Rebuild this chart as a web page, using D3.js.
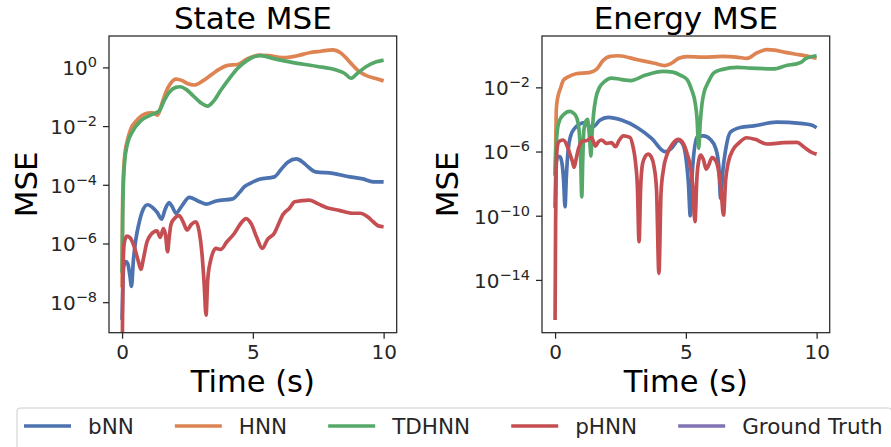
<!DOCTYPE html>
<html>
<head>
<meta charset="utf-8">
<script src="https://cdn.jsdelivr.net/npm/d3@7"></script>
<style>
  html, body { margin: 0; padding: 0; background: #fff; }
  svg { display: block; }
</style>
</head>
<body>
<svg id="chart" width="891" height="447"></svg>
<script>
// ---- Series: [time (s), log10(MSE)] samples of each model's error ----
const stateBNN = [[0,-8.6],[0.06,-6.8],[0.14,-6.62],[0.22,-6.7],[0.3,-7.1],[0.36,-7.46],[0.43,-6.6],[0.52,-5.9],[0.65,-5.3],[0.8,-4.85],[0.97,-4.68],[1.2,-4.8],[1.35,-4.95],[1.51,-5.17],[1.64,-4.85],[1.8,-4.61],[1.92,-4.75],[2.06,-4.97],[2.3,-4.7],[2.57,-4.43],[2.9,-4.55],[3.21,-4.66],[3.6,-4.55],[4.23,-4.48],[4.5,-4.25],[4.67,-4.07],[4.9,-3.95],[5.25,-3.81],[5.82,-3.73],[6.1,-3.45],[6.35,-3.22],[6.66,-3.12],[6.9,-3.22],[7.1,-3.38],[7.4,-3.56],[8.06,-3.61],[8.7,-3.73],[9.21,-3.8],[9.6,-3.9],[10,-3.9]];
const stateHNN = [[0,-7.5],[0.02,-4.6],[0.06,-3.5],[0.12,-2.85],[0.2,-2.5],[0.33,-2.1],[0.52,-1.85],[0.75,-1.65],[0.97,-1.56],[1.15,-1.55],[1.36,-1.63],[1.5,-1.3],[1.67,-0.85],[1.85,-0.55],[2.06,-0.4],[2.3,-0.45],[2.5,-0.55],[2.76,-0.6],[3.1,-0.45],[3.4,-0.26],[3.7,-0.07],[4.04,0.07],[4.42,0.1],[4.8,0.3],[5.25,0.42],[5.6,0.4],[6.14,0.33],[6.66,0.39],[7.16,0.5],[7.6,0.55],[8.06,0.6],[8.35,0.5],[8.7,0.19],[9.08,-0.15],[9.34,-0.28],[9.7,-0.38],[10,-0.46]];
const stateTDHNN = [[0,-7.0],[0.02,-5.2],[0.05,-4.0],[0.1,-3.2],[0.2,-2.62],[0.39,-2.2],[0.71,-1.82],[1.1,-1.62],[1.42,-1.48],[1.6,-1.15],[1.8,-0.85],[2.05,-0.68],[2.22,-0.66],[2.45,-0.75],[2.7,-0.95],[3.0,-1.2],[3.27,-1.32],[3.5,-1.15],[3.78,-0.77],[4.1,-0.38],[4.42,-0.03],[4.8,0.25],[5.1,0.38],[5.31,0.4],[5.8,0.3],[6.5,0.17],[7.42,0.04],[8.19,-0.09],[8.5,-0.2],[8.76,-0.37],[9.0,-0.2],[9.34,0.03],[9.72,0.19],[10,0.25]];
const statePHNN = [[0,-10.5],[0.03,-7.2],[0.08,-6.0],[0.18,-5.75],[0.3,-5.8],[0.46,-6.1],[0.62,-6.6],[0.72,-6.88],[0.82,-6.5],[0.95,-5.95],[1.1,-5.7],[1.33,-5.57],[1.46,-5.79],[1.58,-5.49],[1.66,-5.7],[1.74,-6.28],[1.8,-5.8],[1.87,-5.35],[2.0,-5.15],[2.18,-5.05],[2.35,-5.3],[2.48,-5.54],[2.65,-5.35],[2.82,-5.26],[2.95,-5.6],[3.05,-6.3],[3.14,-7.4],[3.21,-8.44],[3.27,-7.3],[3.36,-6.68],[3.59,-6.17],[3.78,-6.2],[4.0,-5.95],[4.29,-5.66],[4.55,-5.3],[4.74,-5.15],[4.95,-5.35],[5.15,-5.8],[5.36,-6.17],[5.57,-5.85],[5.82,-5.65],[6.0,-5.3],[6.14,-5.03],[6.4,-4.8],[6.6,-4.58],[7.16,-4.52],[7.5,-4.65],[7.8,-4.77],[8.3,-4.87],[8.8,-4.97],[9.1,-4.97],[9.4,-5.1],[9.6,-5.26],[9.8,-5.4],[10,-5.43]];

const energyBNN = [[0,-9.5],[0.04,-6.8],[0.1,-6.3],[0.19,-6.32],[0.27,-6.8],[0.33,-7.9],[0.38,-9.44],[0.43,-7.6],[0.5,-5.9],[0.6,-5.0],[0.75,-4.55],[0.93,-4.3],[1.14,-4.2],[1.3,-4.45],[1.46,-4.45],[1.71,-4.05],[2.03,-3.87],[2.54,-4.04],[3.15,-4.52],[3.69,-5.18],[4.2,-6.01],[4.45,-5.8],[4.72,-5.3],[4.9,-5.6],[5.02,-6.6],[5.1,-8.0],[5.17,-10.0],[5.25,-7.2],[5.43,-5.1],[5.67,-5.03],[5.94,-5.25],[6.15,-5.85],[6.26,-6.9],[6.33,-8.92],[6.42,-7.1],[6.52,-5.9],[6.7,-4.8],[7.08,-4.5],[7.6,-4.4],[8.47,-4.17],[9.37,-4.25],[9.8,-4.35],[10,-4.52]];
const energyHNN = [[0,-7.5],[0.02,-5.9],[0.05,-3.3],[0.12,-2.5],[0.2,-2.1],[0.32,-1.55],[0.5,-1.35],[0.8,-1.15],[1.3,-1.08],[1.58,-0.88],[1.85,-0.3],[2.1,-0.07],[2.41,-0.03],[3.15,-0.28],[3.8,-0.5],[4.2,-0.64],[4.5,-0.45],[4.71,-0.2],[5.05,-0.08],[5.67,-0.12],[6.4,-0.07],[7.0,-0.13],[7.33,-0.19],[7.71,0.14],[8.1,0.35],[8.4,0.32],[8.8,0.18],[9.37,0.02],[10,-0.19]];
const energyTDHNN = [[0,-7.5],[0.03,-6.1],[0.1,-4.5],[0.19,-4.0],[0.31,-3.73],[0.56,-3.5],[0.7,-3.6],[0.83,-3.9],[0.93,-4.9],[0.98,-6.5],[1.02,-8.82],[1.06,-6.4],[1.1,-4.7],[1.18,-4.1],[1.24,-4.0],[1.29,-4.6],[1.33,-5.4],[1.37,-6.28],[1.41,-5.0],[1.47,-3.7],[1.55,-2.75],[1.7,-2.0],[1.85,-1.7],[2.16,-1.42],[2.5,-1.5],[2.9,-1.58],[3.44,-1.25],[4.14,-1.0],[4.5,-1.05],[4.8,-1.25],[5.04,-1.5],[5.22,-2.15],[5.36,-3.0],[5.43,-4.0],[5.49,-5.8],[5.55,-4.2],[5.62,-3.0],[5.7,-2.3],[5.85,-1.7],[6.07,-1.1],[6.4,-0.88],[6.96,-0.75],[7.46,-0.8],[8.35,-0.85],[8.88,-0.62],[9.18,-0.55],[9.4,-0.45],[9.6,-0.2],[10,-0.03]];
const energyPHNN = [[0,-16.5],[0.02,-10.5],[0.04,-7.2],[0.08,-5.8],[0.14,-5.39],[0.31,-5.28],[0.45,-5.6],[0.56,-6.11],[0.66,-6.6],[0.73,-6.98],[0.8,-6.5],[0.9,-5.8],[1.01,-5.4],[1.26,-5.28],[1.39,-5.12],[1.47,-5.4],[1.54,-5.66],[1.65,-5.4],[1.77,-5.28],[1.97,-5.49],[2.16,-5.45],[2.31,-5.7],[2.45,-5.3],[2.61,-5.03],[2.86,-5.12],[2.98,-5.7],[3.07,-6.6],[3.15,-8.3],[3.21,-11.62],[3.27,-8.3],[3.34,-6.8],[3.45,-6.3],[3.56,-6.16],[3.68,-6.35],[3.78,-6.9],[3.88,-8.4],[3.97,-13.59],[4.05,-8.6],[4.14,-7.15],[4.3,-6.1],[4.5,-5.5],[4.71,-5.24],[4.9,-5.5],[5.06,-6.2],[5.18,-7.0],[5.27,-8.3],[5.35,-10.37],[5.42,-7.7],[5.5,-6.5],[5.57,-6.22],[5.67,-6.5],[5.78,-7.1],[5.86,-6.9],[6.0,-6.38],[6.15,-6.6],[6.26,-7.3],[6.35,-8.5],[6.44,-9.96],[6.52,-7.8],[6.62,-6.7],[6.8,-5.9],[7.01,-5.49],[7.33,-5.14],[7.65,-5.24],[8.1,-5.53],[8.74,-5.45],[9.25,-5.43],[9.5,-5.7],[9.83,-6.07],[10,-6.16]];

const seriesNames  = ["bNN", "HNN", "TDHNN", "pHNN", "Ground Truth"];
const seriesColors = ["#4C72B0", "#DD8452", "#55A868", "#C44E52", "#8172B3"];
const timeTicks = [0, 5, 10];
const stateTickExponents  = [0, -2, -4, -6, -8];
const energyTickExponents = [-2, -6, -10, -14];

// ---- Layout ----
const FONT = "DejaVu Sans";
const INK = "#262626";
const svg = d3.select("#chart");
const plotTop = 36, plotBottom = 332.7;
const LABEL_SIZE = 31, XLABEL_SIZE = 30.5, TICK_SIZE = 20, SUP_SIZE = 14.5;

const panels = [
  { title: "State MSE",  left: 109, right: 396.7, logDomain: [-9.04, 1.07],
    tickExps: stateTickExponents, yLabelX: 36.7,
    series: [stateBNN, stateHNN, stateTDHNN, statePHNN] },
  { title: "Energy MSE", left: 542, right: 829.7, logDomain: [-17.29, 1.2],
    tickExps: energyTickExponents, yLabelX: 458.3,
    series: [energyBNN, energyHNN, energyTDHNN, energyPHNN] }
];

const toMinus = s => s.replace("-", "\u2212");

panels.forEach((p, pi) => {
  const x = d3.scaleLinear().domain([-0.5, 10.5]).range([p.left, p.right]);
  const y = d3.scaleLog()
    .domain([Math.pow(10, p.logDomain[0]), Math.pow(10, p.logDomain[1])])
    .range([plotBottom, plotTop]);

  const g = svg.append("g");

  // clip to the axes box
  const clipId = "clip" + pi;
  svg.append("clipPath").attr("id", clipId)
    .append("rect")
    .attr("x", p.left).attr("y", plotTop)
    .attr("width", p.right - p.left).attr("height", plotBottom - plotTop);

  const line = d3.line()
    .x(d => x(d[0]))
    .y(d => y(Math.pow(10, d[1])))
    .curve(d3.curveMonotoneX);

  const lines = g.append("g").attr("clip-path", `url(#${clipId})`);
  p.series.forEach((s, i) => {
    lines.append("path")
      .datum(s)
      .attr("d", line)
      .attr("fill", "none")
      .attr("stroke", seriesColors[i])
      .attr("stroke-width", 3.7)
      .attr("stroke-linejoin", "round")
      .attr("stroke-linecap", "butt");
  });

  // x axis
  const xAxis = d3.axisBottom(x).tickValues(timeTicks).tickSize(6).tickSizeOuter(0)
    .tickFormat(d3.format("d"));
  const gx = g.append("g").attr("transform", `translate(0,${plotBottom})`).call(xAxis);
  gx.select(".domain").remove();
  gx.selectAll(".tick line").attr("stroke", INK).attr("stroke-width", 1.25);
  gx.selectAll(".tick text")
    .attr("font-family", FONT).attr("font-size", TICK_SIZE).attr("fill", INK)
    .attr("y", 26).attr("dy", null);

  // y axis with 10^k labels
  const yAxis = d3.axisLeft(y)
    .tickValues(p.tickExps.map(e => Math.pow(10, e)))
    .tickSize(6).tickSizeOuter(0).tickFormat("");
  const gy = g.append("g").attr("transform", `translate(${p.left},0)`).call(yAxis);
  gy.select(".domain").remove();
  gy.selectAll(".tick line").attr("stroke", INK).attr("stroke-width", 1.25);
  gy.selectAll(".tick text").remove();
  gy.selectAll(".tick").each(function (d) {
    const e = Math.round(Math.log10(d));
    const t = d3.select(this).append("text")
      .attr("x", -12).attr("y", 7.3)
      .attr("text-anchor", "end")
      .attr("font-family", FONT).attr("font-size", TICK_SIZE).attr("fill", INK);
    t.append("tspan").text("10");
    t.append("tspan").attr("dy", -8).attr("font-size", SUP_SIZE).text(toMinus(String(e)));
  });

  // spines
  g.append("rect")
    .attr("x", p.left).attr("y", plotTop)
    .attr("width", p.right - p.left).attr("height", plotBottom - plotTop)
    .attr("fill", "none").attr("stroke", INK).attr("stroke-width", 1.25);

  // title and axis labels
  const cx = (p.left + p.right) / 2;
  g.append("text").attr("x", cx).attr("y", 28.5)
    .attr("text-anchor", "middle").attr("font-family", FONT).attr("font-size", LABEL_SIZE)
    .attr("fill", "#000").text(p.title);
  g.append("text").attr("x", cx).attr("y", 392)
    .attr("text-anchor", "middle").attr("font-family", FONT).attr("font-size", XLABEL_SIZE)
    .attr("fill", "#000").text("Time (s)");
  g.append("text")
    .attr("transform", `translate(${p.yLabelX},${(plotTop + plotBottom) / 2}) rotate(-90)`)
    .attr("text-anchor", "middle").attr("font-family", FONT).attr("font-size", LABEL_SIZE)
    .attr("fill", "#000").text("MSE");
});

// ---- Legend ----
const legend = svg.append("g");
const legendBox = legend.append("rect")
  .attr("x", 17).attr("y", 408).attr("rx", 3).attr("ry", 3)
  .attr("height", 44)
  .attr("fill", "#fff").attr("stroke", "#cccccc").attr("stroke-width", 1);

let lx = 24;
const ly = 426;
seriesNames.forEach((name, i) => {
  legend.append("line")
    .attr("x1", lx).attr("x2", lx + 47).attr("y1", ly).attr("y2", ly)
    .attr("stroke", seriesColors[i]).attr("stroke-width", 3.3);
  const t = legend.append("text")
    .attr("x", lx + 64).attr("y", ly + 7.8)
    .attr("font-family", FONT).attr("font-size", 21.5).attr("fill", INK)
    .text(name);
  lx += 64 + t.node().getComputedTextLength() + 41;
});
legendBox.attr("width", lx - 41 + 9 - 17);
</script>
</body>
</html>
